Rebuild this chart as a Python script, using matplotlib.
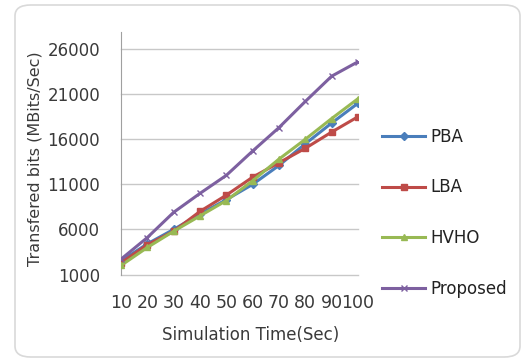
import matplotlib
matplotlib.use("Agg")
import matplotlib.pyplot as plt
from matplotlib.patches import FancyBboxPatch
from matplotlib.lines import Line2D

plt.rcParams['font.family'] = ['DejaVu Sans']

time_sec = [10, 20, 30, 40, 50, 60, 70, 80, 90, 100]
pba = [2500, 4400, 6000, 7700, 9300, 11000, 13100, 15500, 17800, 20000]
lba = [2300, 4300, 5800, 8000, 9800, 11800, 13400, 15000, 16800, 18500]
hvho = [2000, 4000, 5800, 7500, 9200, 11400, 13800, 16000, 18300, 20500]
proposed = [2700, 5100, 7900, 10000, 12000, 14700, 17300, 20200, 23000, 24600]
y_ticks = [1000, 6000, 11000, 16000, 21000, 26000]

W, H = 525, 362
fig = plt.figure(figsize=(W / 100, H / 100), dpi=100)
TXT = '#3a3a3a'

# rounded chart frame
frame = FancyBboxPatch((15 / W, 5 / H), 505 / W, 352 / H,
                       boxstyle="round,pad=0,rounding_size=0.03",
                       transform=fig.transFigure, facecolor='white',
                       edgecolor='#d9d9d9', linewidth=1.2, zorder=-5)
fig.patches.append(frame)

left, right = 121, 358
top, bottom = 32, 274.5
ax = fig.add_axes([left / W, 1 - bottom / H, (right - left) / W, (bottom - top) / H])
ax.set_facecolor('none')
ax.set_zorder(2)

series = [
    ('PBA', pba, '#4A7EBB', 'D', 4),
    ('LBA', lba, '#BE4B48', 's', 5),
    ('HVHO', hvho, '#98B954', '^', 5),
    ('Proposed', proposed, '#7D60A0', 'x', 5),
]
for name, vals, col, mk, ms in series:
    ax.plot(time_sec, vals, color=col, lw=2.2, marker=mk, ms=ms,
            mec=col, mfc=col, label=name, zorder=3)

ax.set_xlim(10, 100)
ax.set_ylim(1000, 27900)
ax.set_yticks(y_ticks)
ax.set_xticks(time_sec)
ax.set_xticklabels([str(t) for t in time_sec],
                   family=['Liberation Sans Narrow', 'DejaVu Sans'], fontsize=12.5)
ax.yaxis.grid(True, color='#c8c8c8', lw=1)
for gl in ax.get_ygridlines():
    gl.set_clip_on(False)
ax.set_axisbelow(True)
for s in ['top', 'right', 'bottom']:
    ax.spines[s].set_visible(False)
ax.spines['left'].set_color('#a0a0a0')
ax.tick_params(axis='both', length=0, colors=TXT)
ax.tick_params(axis='y', pad=15, labelsize=12)
ax.tick_params(axis='x', pad=14)

ax.set_xlabel('Simulation Time(Sec)', fontsize=12, color=TXT)
ax.xaxis.set_label_coords(0.546, -0.212)
ax.set_ylabel('Transfered bits (MBits/Sec)', fontsize=11.5, color=TXT)
ax.yaxis.set_label_coords(-0.333, 0.478)

handles = [Line2D([0], [0], color=c, lw=2.2, marker=m, ms=ms, mec=c, mfc=c)
           for _, _, c, m, ms in series]
leg = fig.legend(handles, [s[0] for s in series], loc='upper left',
                 bbox_to_anchor=(367 / W, 1 - 113 / H), frameon=False,
                 prop={'size': 12}, labelspacing=1.95, handlelength=2.6,
                 handletextpad=0.3, labelcolor='#222222')

fig.savefig('out.png', dpi=100)
